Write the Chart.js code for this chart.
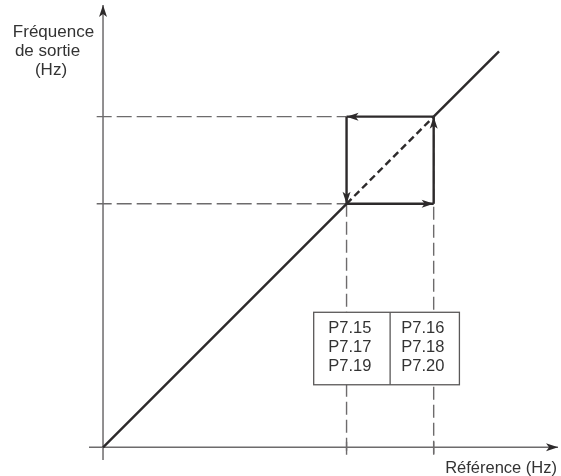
<!DOCTYPE html>
<html>
<head>
<meta charset="utf-8">
<script src="https://cdn.jsdelivr.net/npm/chart.js@4"></script>
<style>
  body { margin: 0; background: #fff; }
  canvas { display: block; }
</style>
</head>
<body>
<canvas id="chart" width="561" height="476"></canvas>
<script>
// Switching points on the reference axis (Hz) and the output line ends
const thresholds = [61.5, 83.5];
const lineStart = [0, 0];
const lineEnd = [100, 100];

// Parameter labels in the box
const boxLeftLabels = ["P7.15", "P7.17", "P7.19"];
const boxRightLabels = ["P7.16", "P7.18", "P7.20"];
const xTitle = "Référence (Hz)";
const yTitle = ["Fréquence", "de sortie", "(Hz)"];

// Axis extents (drawing frame, not data)
const xRange = [-3.54, 115.4];
const yRange = [-3.2, 111.7];
const xTip = 114.9;
const yTip = 111.7;

const dark = "#2d2a2b";
const grey = "#6d6b6c";

const [lo, hi] = thresholds;
const pt = (x, y) => ({ x, y });

const datasets = [
  // hysteresis loop, drawn on top
  { data: [pt(hi, hi), pt(lo, hi)], borderColor: dark, borderWidth: 2.4, arrow: true },
  { data: [pt(lo, hi), pt(lo, lo)], borderColor: dark, borderWidth: 2.4, arrow: true },
  { data: [pt(lo, lo), pt(hi, lo)], borderColor: dark, borderWidth: 2.4, arrow: true },
  { data: [pt(hi, lo), pt(hi, hi)], borderColor: dark, borderWidth: 2.4, arrow: true },
  // output frequency line
  { data: [pt(lineStart[0], lineStart[1]), pt(lo, lo)], borderColor: dark, borderWidth: 2.4 },
  { data: [pt(lo, lo), pt(hi, hi)], borderColor: dark, borderWidth: 2.4, borderDash: [7, 4] },
  { data: [pt(hi, hi), pt(lineEnd[0], lineEnd[1])], borderColor: dark, borderWidth: 2.4 },
  // dashed guides
  { data: [pt(-1.6, hi), pt(lo, hi)], borderColor: grey, borderWidth: 1.4, borderDash: [15, 5] },
  { data: [pt(-1.6, lo), pt(lo, lo)], borderColor: grey, borderWidth: 1.4, borderDash: [15, 5] },
  { data: [pt(lo, lo), pt(lo, -1.9)], borderColor: grey, borderWidth: 1.4, borderDash: [13, 5] },
  { data: [pt(hi, hi), pt(hi, -1.9)], borderColor: grey, borderWidth: 1.4, borderDash: [13, 5] },
  // ticks on the x axis
  { data: [pt(lo, 1.4), pt(lo, -1.9)], borderColor: grey, borderWidth: 1.4 },
  { data: [pt(hi, 1.4), pt(hi, -1.9)], borderColor: grey, borderWidth: 1.4 },
  // axes
  { data: [pt(xRange[0], 0), pt(xTip, 0)], borderColor: grey, borderWidth: 1.5, arrow: true, arrowColor: dark },
  { data: [pt(0, yRange[0]), pt(0, yTip)], borderColor: grey, borderWidth: 1.5, arrow: true, arrowColor: dark },
].map((d, i) => ({ ...d, order: i, showLine: true, pointRadius: 0, fill: false, clip: false }));

// Draw arrowheads, the parameter box and the axis titles
const extras = {
  id: "extras",
  afterDatasetsDraw(chart) {
    const ctx = chart.ctx;
    const xs = chart.scales.x, ys = chart.scales.y;
    const px = (v) => xs.getPixelForValue(v);
    const py = (v) => ys.getPixelForValue(v);

    chart.data.datasets.forEach((ds) => {
      if (!ds.arrow) return;
      const a = ds.data[ds.data.length - 2], b = ds.data[ds.data.length - 1];
      const x1 = px(a.x), y1 = py(a.y), x2 = px(b.x), y2 = py(b.y);
      const ang = Math.atan2(y2 - y1, x2 - x1);
      const len = 12, half = 4;
      ctx.save();
      ctx.translate(x2, y2);
      ctx.rotate(ang);
      ctx.fillStyle = ds.arrowColor || ds.borderColor;
      ctx.beginPath();
      ctx.moveTo(0, 0);
      ctx.lineTo(-len, -half);
      ctx.lineTo(-len + 3, 0);
      ctx.lineTo(-len, half);
      ctx.closePath();
      ctx.fill();
      ctx.restore();
    });

    // parameter box
    const bx0 = px(53.2), bx1 = px(90), by0 = py(34.1), by1 = py(15.8);
    const mid = px((lo + hi) / 2);
    ctx.save();
    ctx.fillStyle = "#fff";
    ctx.fillRect(bx0, by0, bx1 - bx0, by1 - by0);
    ctx.strokeStyle = "#5a5858";
    ctx.lineWidth = 1.3;
    ctx.strokeRect(bx0, by0, bx1 - bx0, by1 - by0);
    ctx.beginPath();
    ctx.moveTo(mid, by0);
    ctx.lineTo(mid, by1);
    ctx.stroke();

    ctx.fillStyle = "#333";
    ctx.font = "16.5px 'Liberation Sans', Arial, sans-serif";
    ctx.textAlign = "center";
    ctx.textBaseline = "alphabetic";
    boxLeftLabels.forEach((t, i) => ctx.fillText(t, (bx0 + mid) / 2 - 2, by0 + 21 + i * 19));
    boxRightLabels.forEach((t, i) => ctx.fillText(t, (mid + bx1) / 2 - 2, by0 + 21 + i * 19));

    // axis titles
    ctx.font = "16.5px 'Liberation Sans', Arial, sans-serif";
    ctx.textAlign = "right";
    ctx.fillText(xTitle, 557, 472.5);
    ctx.font = "17px 'Liberation Sans', Arial, sans-serif";
    ctx.textAlign = "center";
    ctx.fillText(yTitle[0], 53.5, 37);
    ctx.fillText(yTitle[1], 47.5, 56);
    ctx.fillText(yTitle[2], 51, 75);
    ctx.restore();
  },
};

new Chart(document.getElementById("chart"), {
  type: "scatter",
  data: { datasets },
  options: {
    responsive: false,
    animation: false,
    layout: { padding: { left: 89, right: 1, top: 5, bottom: 16 } },
    plugins: { legend: { display: false }, tooltip: { enabled: false } },
    scales: {
      x: { type: "linear", min: xRange[0], max: xRange[1], display: false },
      y: { type: "linear", min: yRange[0], max: yRange[1], display: false },
    },
  },
  plugins: [extras],
});
</script>
</body>
</html>
